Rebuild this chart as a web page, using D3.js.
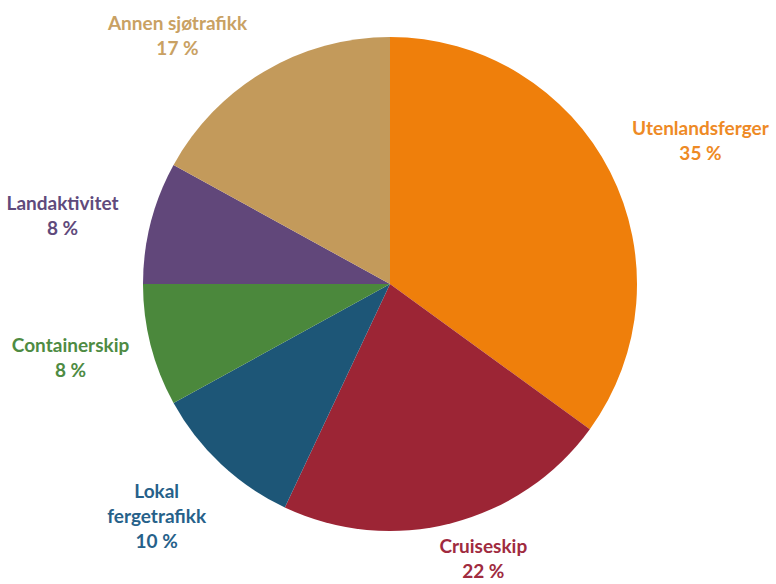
<!DOCTYPE html>
<html><head><meta charset="utf-8">
<script src="https://cdn.jsdelivr.net/npm/d3@7"></script>
<style>html,body{margin:0;padding:0;background:#fff;}svg{display:block;}</style>
</head><body>
<script>
const categories = ["Utenlandsferger", "Cruiseskip", "Lokal fergetrafikk", "Containerskip", "Landaktivitet", "Annen sjøtrafikk"];
const values = [35, 22, 10, 8, 8, 17];
const labelLines = [["Utenlandsferger"], ["Cruiseskip"], ["Lokal", "fergetrafikk"], ["Containerskip"], ["Landaktivitet"], ["Annen sjøtrafikk"]];
const sliceColors = ["#EF7F0B", "#9C2535", "#1D5677", "#4B883C", "#61477A", "#C39A5B"];
const textColors = ["#EE8A25", "#A02B3F", "#26618A", "#4E8B43", "#5F4A7C", "#C9A163"];
// label nudges (layout only)
const labelNudge = [[12, 8], [10, -50], [-4, -13], [5, -10], [-3, 14], [-42, 39]];

const W = 776, H = 584, cx = 390, cy = 284, R = 247, LR = 335;
const svg = d3.select("body").append("svg").attr("width", W).attr("height", H);
const g = svg.append("g").attr("transform", `translate(${cx},${cy})`);
const pie = d3.pie().sort(null).value(d => d)(values);
const arc = d3.arc().innerRadius(0).outerRadius(R);
g.selectAll("path").data(pie).join("path")
  .attr("d", arc).attr("fill", (d, i) => sliceColors[i]);

const color = d3.scaleOrdinal().domain(categories).range(textColors);
pie.forEach((d, i) => {
  const a = (d.startAngle + d.endAngle) / 2;
  const x = LR * Math.sin(a) + labelNudge[i][0];
  const y = -LR * Math.cos(a) + labelNudge[i][1];
  const lines = labelLines[i].concat([d3.format("d")(values[i]) + " %"]);
  const n = lines.length;
  const t = g.append("text").attr("text-anchor", "middle")
    .attr("font-family", "Lato, 'Open Sans', sans-serif").attr("font-weight", "bold")
    .attr("font-size", 19).attr("fill", color(categories[i]));
  lines.forEach((s, k) => {
    t.append("tspan").attr("x", x).attr("y", y + (k - (n - 1) / 2) * 25)
      .attr("dominant-baseline", "central").text(s);
  });
});
</script>
</body></html>
